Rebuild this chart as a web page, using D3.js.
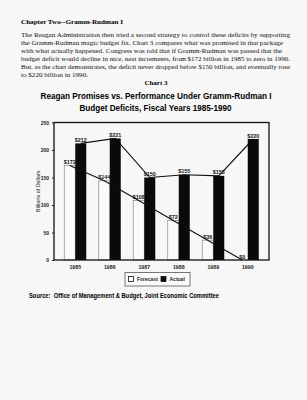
<!DOCTYPE html>
<html>
<head>
<meta charset="utf-8">
<script src="https://cdn.jsdelivr.net/npm/d3@7"></script>
<style>
  body { margin: 0; background: #f7f7f7; }
  svg { display: block; }
</style>
</head>
<body>
<script>
const w = 307;
const h = 400;

// chart values
const years = ["1985", "1986", "1987", "1988", "1989", "1990"];
const forecast = [172, 144, 108, 72, 36, 0];
const actual = [212, 221, 150, 155, 153, 220];
const yTicks = [0, 50, 100, 150, 200, 250];
const seriesNames = ["Forecast", "Actual"];

const paragraph = [
  "The Reagan Administration then tried a second strategy to control these deficits by supporting",
  "the Gramm-Rudman magic budget fix.  Chart 3 compares what was promised in that package",
  "with what actually happened.  Congress was told that if Gramm-Rudman was passed that the",
  "budget deficit would decline in nice, neat increments, from $172 billion in 1985 to zero in 1990.",
  "But, as the chart demonstrates, the deficit never dropped below $150 billion, and eventually rose",
  "to $220 billion in 1990."
];

const svg = d3.select("body")
  .append("svg")
  .attr("width", w)
  .attr("height", h);

svg.append("rect").attr("width", w).attr("height", h).attr("fill", "#f7f7f7");

const serif = "'Liberation Serif', 'DejaVu Serif', serif";
const sans = "'Liberation Sans', Arial, sans-serif";

// page text
svg.append("text")
  .attr("x", 21).attr("y", 23.5)
  .attr("font-family", serif).attr("font-weight", "bold").attr("font-size", 7)
  .attr("textLength", 102).attr("lengthAdjust", "spacingAndGlyphs")
  .text("Chapter Two--Gramm-Rudman I");

const lineWidths = [269, 262, 261, 269, 269, 67];
svg.selectAll(".para")
  .data(paragraph)
  .enter()
  .append("text")
  .attr("class", "para")
  .attr("x", 21)
  .attr("y", (d, i) => 37.3 + i * 7.9)
  .attr("font-family", serif).attr("font-size", 6.8)
  .attr("fill", "#111")
  .attr("textLength", (d, i) => lineWidths[i])
  .attr("lengthAdjust", "spacingAndGlyphs")
  .text(d => d);

svg.append("text")
  .attr("x", 156).attr("y", 84.5)
  .attr("text-anchor", "middle")
  .attr("font-family", serif).attr("font-weight", "bold").attr("font-size", 7)
  .text("Chart 3");

svg.append("text")
  .attr("x", 156).attr("y", 99.3)
  .attr("text-anchor", "middle")
  .attr("font-family", sans).attr("font-weight", "bold").attr("font-size", 8.6)
  .attr("textLength", 231).attr("lengthAdjust", "spacingAndGlyphs")
  .text("Reagan Promises vs. Performance Under Gramm-Rudman I");

svg.append("text")
  .attr("x", 155.5).attr("y", 111.3)
  .attr("text-anchor", "middle")
  .attr("font-family", sans).attr("font-weight", "bold").attr("font-size", 8.6)
  .attr("textLength", 152).attr("lengthAdjust", "spacingAndGlyphs")
  .text("Budget Deficits, Fiscal Years 1985-1990");

// plot area
const plotLeft = 54, plotRight = 269, plotTop = 122.5, plotBottom = 260;

const x = d3.scaleBand()
  .domain(years)
  .range([58, 265])
  .paddingInner(0.362)
  .paddingOuter(0.181);

const xSub = d3.scaleBand()
  .domain(seriesNames)
  .range([0, x.bandwidth()]);

const y = d3.scaleLinear()
  .domain([0, 250])
  .range([plotBottom, plotTop]);

const rows = years.map((yr, i) => ({ year: yr, Forecast: forecast[i], Actual: actual[i] }));

// connecting lines (behind bars for actual)
const lineFor = key => d3.line()
  .x(d => x(d.year) + xSub(key) + xSub.bandwidth() / 2)
  .y(d => y(d[key]));

svg.append("path")
  .datum(rows)
  .attr("d", lineFor("Actual"))
  .attr("fill", "none")
  .attr("stroke", "#111")
  .attr("stroke-width", 1.1);

// forecast bars
svg.selectAll(".fbar")
  .data(rows)
  .enter()
  .append("rect")
  .attr("class", "fbar")
  .attr("x", d => x(d.year) + xSub("Forecast"))
  .attr("y", d => y(d.Forecast))
  .attr("width", xSub.bandwidth())
  .attr("height", d => plotBottom - y(d.Forecast))
  .attr("fill", "#fbfbfb")
  .attr("stroke", "#888")
  .attr("stroke-width", 0.7);

// actual bars
svg.selectAll(".abar")
  .data(rows)
  .enter()
  .append("rect")
  .attr("class", "abar")
  .attr("x", d => x(d.year) + xSub("Actual"))
  .attr("y", d => y(d.Actual))
  .attr("width", xSub.bandwidth())
  .attr("height", d => plotBottom - y(d.Actual))
  .attr("fill", "#0a0a0a");

svg.append("path")
  .datum(rows)
  .attr("d", lineFor("Forecast"))
  .attr("fill", "none")
  .attr("stroke", "#111")
  .attr("stroke-width", 1.1);

// value labels
seriesNames.forEach(key => {
  svg.selectAll(".lbl-" + key)
    .data(rows)
    .enter()
    .append("text")
    .attr("class", "lbl-" + key)
    .attr("x", d => x(d.year) + xSub(key) + xSub.bandwidth() / 2)
    .attr("y", d => y(d[key]) - 1.5)
    .attr("text-anchor", "middle")
    .attr("font-family", sans).attr("font-weight", "bold").attr("font-size", 5.4)
    .attr("fill", "#111")
    .text(d => "$" + d[key]);
});

// frame
svg.append("rect")
  .attr("x", plotLeft).attr("y", plotTop)
  .attr("width", plotRight - plotLeft).attr("height", plotBottom - plotTop)
  .attr("fill", "none")
  .attr("stroke", "#111")
  .attr("stroke-width", 1.3);

// axes
const yAxis = d3.axisLeft(y).tickValues(yTicks).tickSize(2).tickPadding(3);
const gy = svg.append("g")
  .attr("transform", "translate(" + plotLeft + ",0)")
  .call(yAxis);
gy.select(".domain").remove();
gy.selectAll("text")
  .attr("font-family", sans).attr("font-weight", "bold").attr("font-size", 5).attr("fill", "#222");
gy.selectAll("line").attr("stroke", "#222");

const xAxis = d3.axisBottom(x).tickSize(0).tickPadding(5);
const gx = svg.append("g")
  .attr("transform", "translate(0," + plotBottom + ")")
  .call(xAxis);
gx.select(".domain").remove();
gx.selectAll("text")
  .attr("font-family", sans).attr("font-weight", "bold").attr("font-size", 5.2).attr("fill", "#222");

svg.append("text")
  .attr("transform", "translate(40," + ((plotTop + plotBottom) / 2) + ") rotate(-90)")
  .attr("text-anchor", "middle")
  .attr("font-family", sans).attr("font-size", 5.4).attr("fill", "#222")
  .text("Billions of Dollars");

// legend
const legend = svg.append("g").attr("transform", "translate(125,272.5)");
legend.append("rect")
  .attr("width", 65).attr("height", 13.5)
  .attr("fill", "#fafafa").attr("stroke", "#555").attr("stroke-width", 0.8);
const legendX = [3.5, 36];
seriesNames.forEach((name, i) => {
  legend.append("rect")
    .attr("x", legendX[i]).attr("y", 4)
    .attr("width", 5).attr("height", 5)
    .attr("fill", name === "Actual" ? "#0a0a0a" : "#fff")
    .attr("stroke", "#111").attr("stroke-width", 0.8);
  legend.append("text")
    .attr("x", legendX[i] + 8.5).attr("y", 8.8)
    .attr("font-family", sans).attr("font-weight", "bold").attr("font-size", 5)
    .attr("fill", "#222")
    .text(name);
});

// source
svg.append("text")
  .attr("x", 29).attr("y", 297.5)
  .attr("font-family", sans).attr("font-weight", "bold").attr("font-size", 6.3)
  .attr("textLength", 190).attr("lengthAdjust", "spacingAndGlyphs")
  .attr("xml:space", "preserve")
  .text("Source:  Office of Management & Budget, Joint Economic Committee");
</script>
</body>
</html>
